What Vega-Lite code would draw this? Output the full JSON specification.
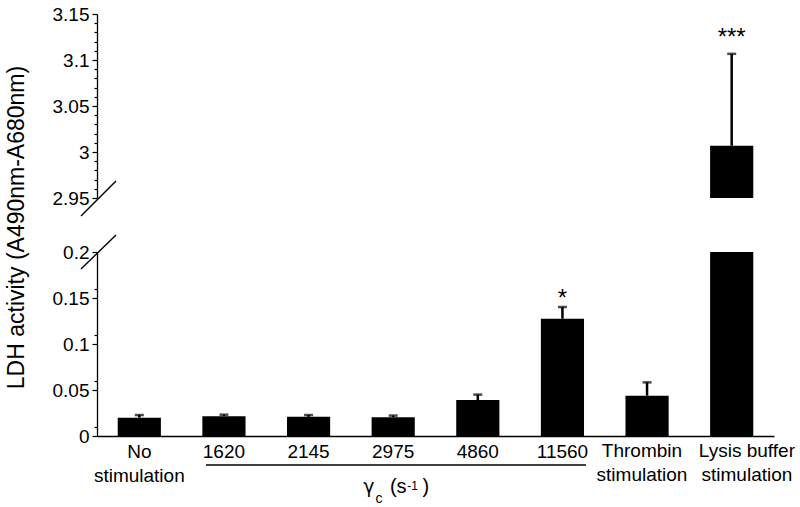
{
  "$schema": "https://vega.github.io/schema/vega-lite/v6.json",
  "padding": {"left": 5, "top": 5, "right": 5, "bottom": 5},
  "bounds": "flush",
  "spacing": 54,
  "datasets": {
    "bars": [
      {"group": "No stimulation", "value": 0.0199, "upper": 0.0228},
      {"group": "1620", "value": 0.0215, "upper": 0.0232},
      {"group": "2145", "value": 0.0208, "upper": 0.0228},
      {"group": "2975", "value": 0.0205, "upper": 0.0222},
      {"group": "4860", "value": 0.039, "upper": 0.045},
      {"group": "11560", "value": 0.1275, "upper": 0.1402},
      {"group": "Thrombin stimulation", "value": 0.0438, "upper": 0.0583},
      {"group": "Lysis buffer stimulation", "value": 3.0068, "upper": 3.1067}
    ],
    "one": [{"note": "annotation"}]
  },
  "vconcat": [
    {
      "width": 677,
      "height": 184,
      "data": {"name": "bars"},
      "layer": [
        {
          "layer": [
            {
              "transform": [{"filter": "datum.upper > 1"}],
              "mark": {"type": "bar", "color": "black", "clip": true},
              "encoding": {
                "x": {"field": "group", "type": "nominal", "sort": null,
                  "scale": {"domain": ["No stimulation", "1620", "2145", "2975", "4860", "11560", "Thrombin stimulation", "Lysis buffer stimulation"], "paddingInner": 0.49, "paddingOuter": 0.245},
                  "axis": null},
                "y": {"field": "value", "type": "quantitative",
                  "scale": {"domain": [2.95, 3.15], "nice": false, "zero": false},
                  "axis": {
                    "orient": "left",
                    "title": null,
                    "values": [2.95, 3.0, 3.05, 3.1, 3.15],
                    "format": "~g",
                    "tickSize": 5,
                    "labelOverlap": false,
                    "labelBound": false,
                    "labelFlush": false,
                    "labelPadding": 3,
                    "grid": false
                  }},
                "y2": {"datum": 2.95}
              }
            },
            {
              "transform": [{"filter": "datum.upper > 1"}],
              "mark": {"type": "rule", "color": "black", "strokeWidth": 2.5},
              "encoding": {
                "x": {"field": "group", "type": "nominal", "sort": null},
                "y": {"field": "value", "type": "quantitative"},
                "y2": {"field": "upper"}
              }
            },
            {
              "transform": [{"filter": "datum.upper > 1"}],
              "mark": {"type": "tick", "color": "black", "thickness": 2.5, "size": 9},
              "encoding": {
                "x": {"field": "group", "type": "nominal", "sort": null},
                "y": {"field": "upper", "type": "quantitative"}
              }
            },
            {
              "data": {"name": "one"},
              "mark": {"type": "text", "text": "***", "fontSize": 24, "fontWeight": "normal", "baseline": "alphabetic", "align": "center", "fill": "black"},
              "encoding": {
                "x": {"datum": "Lysis buffer stimulation", "type": "nominal"},
                "y": {"datum": 3.1165, "type": "quantitative"}
              }
            }
          ]
        },
        {
          "data": {"name": "one"},
          "mark": {"type": "rule", "color": "black", "strokeWidth": 1.4},
          "encoding": {
            "x": {"datum": -0.189, "type": "quantitative", "scale": {"domain": [0, 8], "nice": false, "zero": false}, "axis": null},
            "x2": {"datum": 0.2245},
            "y": {"datum": 2.9304, "type": "quantitative",
              "scale": {"domain": [2.95, 3.15], "nice": false, "zero": false},
              "axis": {
                "orient": "left",
                "title": null,
                "values": [2.96, 2.97, 2.98, 2.99, 3.01, 3.02, 3.03, 3.04, 3.06, 3.07, 3.08, 3.09, 3.11, 3.12, 3.13, 3.14],
                "labels": false,
                "domain": false,
                "tickSize": 3,
                "grid": false
              }},
            "y2": {"datum": 2.9685}
          }
        }
      ],
      "resolve": {"scale": {"x": "independent"}, "axis": {"x": "independent", "y": "independent"}}
    },
    {
      "width": 677,
      "height": 184,
      "data": {"name": "bars"},
      "layer": [
        {
          "layer": [
            {
              "mark": {"type": "bar", "color": "black", "clip": true},
              "encoding": {
                "x": {"field": "group", "type": "nominal", "sort": null,
                  "scale": {"domain": ["No stimulation", "1620", "2145", "2975", "4860", "11560", "Thrombin stimulation", "Lysis buffer stimulation"], "paddingInner": 0.49, "paddingOuter": 0.245},
                  "axis": {
                    "title": null,
                    "labelAngle": 0,
                    "ticks": false,
                    "labelLimit": 0,
                    "labelOverlap": false,
                    "labelExpr": "datum.label == 'No stimulation' ? ['No', 'stimulation'] : (datum.label == 'Thrombin stimulation' || datum.label == 'Lysis buffer stimulation') ? '' : datum.label",
                    "labelPadding": 6,
                    "labelLineHeight": 24,
                    "labelFontSize": 19
                  }},
                "y": {"field": "value", "type": "quantitative",
                  "scale": {"domain": [0, 0.2], "nice": false},
                  "axis": {
                    "orient": "left",
                    "title": "LDH activity (A490nm-A680nm)",
                    "titleFontSize": 23,
                    "titleFontWeight": "normal",
                    "titleY": -25,
                    "titlePadding": 24,
                    "values": [0, 0.05, 0.1, 0.15, 0.2],
                    "format": "~g",
                    "tickSize": 5,
                    "labelOverlap": false,
                    "labelBound": false,
                    "labelFlush": false,
                    "labelPadding": 3,
                    "grid": false
                  }}
              }
            },
            {
              "mark": {"type": "rule", "color": "black", "strokeWidth": 2.5, "clip": true},
              "encoding": {
                "x": {"field": "group", "type": "nominal", "sort": null},
                "y": {"field": "value", "type": "quantitative"},
                "y2": {"field": "upper"}
              }
            },
            {
              "mark": {"type": "tick", "color": "black", "thickness": 2.5, "size": 9, "clip": true},
              "encoding": {
                "x": {"field": "group", "type": "nominal", "sort": null},
                "y": {"field": "upper", "type": "quantitative"}
              }
            },
            {
              "data": {"name": "one"},
              "mark": {"type": "text", "text": "*", "fontSize": 24, "fontWeight": "normal", "baseline": "alphabetic", "align": "center", "fill": "black"},
              "encoding": {
                "x": {"datum": "11560", "type": "nominal"},
                "y": {"datum": 0.1418, "type": "quantitative"}
              }
            }
          ]
        },
        {
          "data": {"name": "one"},
          "layer": [
            {
              "mark": {"type": "rule", "color": "black", "strokeWidth": 1.4},
              "encoding": {
                "x": {"datum": -0.189, "type": "quantitative", "scale": {"domain": [0, 8], "nice": false, "zero": false}, "axis": null},
                "x2": {"datum": 0.2245},
                "y": {"datum": 0.1815, "type": "quantitative",
                  "scale": {"domain": [0, 0.2], "nice": false},
                  "axis": {
                    "orient": "left",
                    "title": null,
                    "values": [0.01, 0.02, 0.03, 0.04, 0.06, 0.07, 0.08, 0.09, 0.11, 0.12, 0.13, 0.14, 0.16, 0.17, 0.18, 0.19],
                    "labels": false,
                    "domain": false,
                    "tickSize": 3,
                    "grid": false
                  }},
                "y2": {"datum": 0.2185}
              }
            },
            {
              "mark": {"type": "rule", "color": "black", "strokeWidth": 1.3},
              "encoding": {
                "x": {"datum": 1.288, "type": "quantitative"},
                "x2": {"datum": 5.778},
                "y": {"datum": -0.0315, "type": "quantitative"}
              }
            },
            {
              "mark": {"type": "text", "text": ["Thrombin", "stimulation"], "fontSize": 19, "lineHeight": 24, "fontWeight": "normal", "baseline": "top", "align": "center", "fill": "black"},
              "encoding": {
                "x": {"datum": 6.44, "type": "quantitative"},
                "y": {"datum": -0.0065, "type": "quantitative"}
              }
            },
            {
              "mark": {"type": "text", "text": ["Lysis buffer", "stimulation"], "fontSize": 19, "lineHeight": 24, "fontWeight": "normal", "baseline": "top", "align": "center", "fill": "black"},
              "encoding": {
                "x": {"datum": 7.68, "type": "quantitative"},
                "y": {"datum": -0.0065, "type": "quantitative"}
              }
            },
            {
              "mark": {"type": "text", "text": "γ", "font": "DejaVu Sans", "fontSize": 19, "fontWeight": "normal", "baseline": "alphabetic", "align": "center", "fill": "black"},
              "encoding": {
                "x": {"datum": 3.214, "type": "quantitative"},
                "y": {"datum": -0.062, "type": "quantitative"}
              }
            },
            {
              "mark": {"type": "text", "text": "c", "fontSize": 14, "fontWeight": "normal", "baseline": "alphabetic", "align": "center", "fill": "black"},
              "encoding": {
                "x": {"datum": 3.332, "type": "quantitative"},
                "y": {"datum": -0.0728, "type": "quantitative"}
              }
            },
            {
              "mark": {"type": "text", "text": "(s", "fontSize": 20, "fontWeight": "normal", "baseline": "alphabetic", "align": "center", "fill": "black"},
              "encoding": {
                "x": {"datum": 3.56, "type": "quantitative"},
                "y": {"datum": -0.062, "type": "quantitative"}
              }
            },
            {
              "mark": {"type": "text", "text": "-1", "fontSize": 12, "fontWeight": "normal", "baseline": "alphabetic", "align": "center", "fill": "black"},
              "encoding": {
                "x": {"datum": 3.73, "type": "quantitative"},
                "y": {"datum": -0.0587, "type": "quantitative"}
              }
            },
            {
              "mark": {"type": "text", "text": ")", "fontSize": 20, "fontWeight": "normal", "baseline": "alphabetic", "align": "center", "fill": "black"},
              "encoding": {
                "x": {"datum": 3.885, "type": "quantitative"},
                "y": {"datum": -0.062, "type": "quantitative"}
              }
            }
          ]
        }
      ],
      "resolve": {"scale": {"x": "independent"}, "axis": {"x": "independent", "y": "independent"}}
    }
  ],
  "config": {
    "font": "Liberation Sans",
    "view": {"stroke": null},
    "axis": {
      "domainColor": "black",
      "domainWidth": 1.3,
      "tickColor": "black",
      "tickWidth": 1.2,
      "labelColor": "black",
      "labelFontSize": 19,
      "labelFont": "Liberation Sans",
      "titleColor": "black",
      "titleFont": "Liberation Sans"
    }
  }
}
